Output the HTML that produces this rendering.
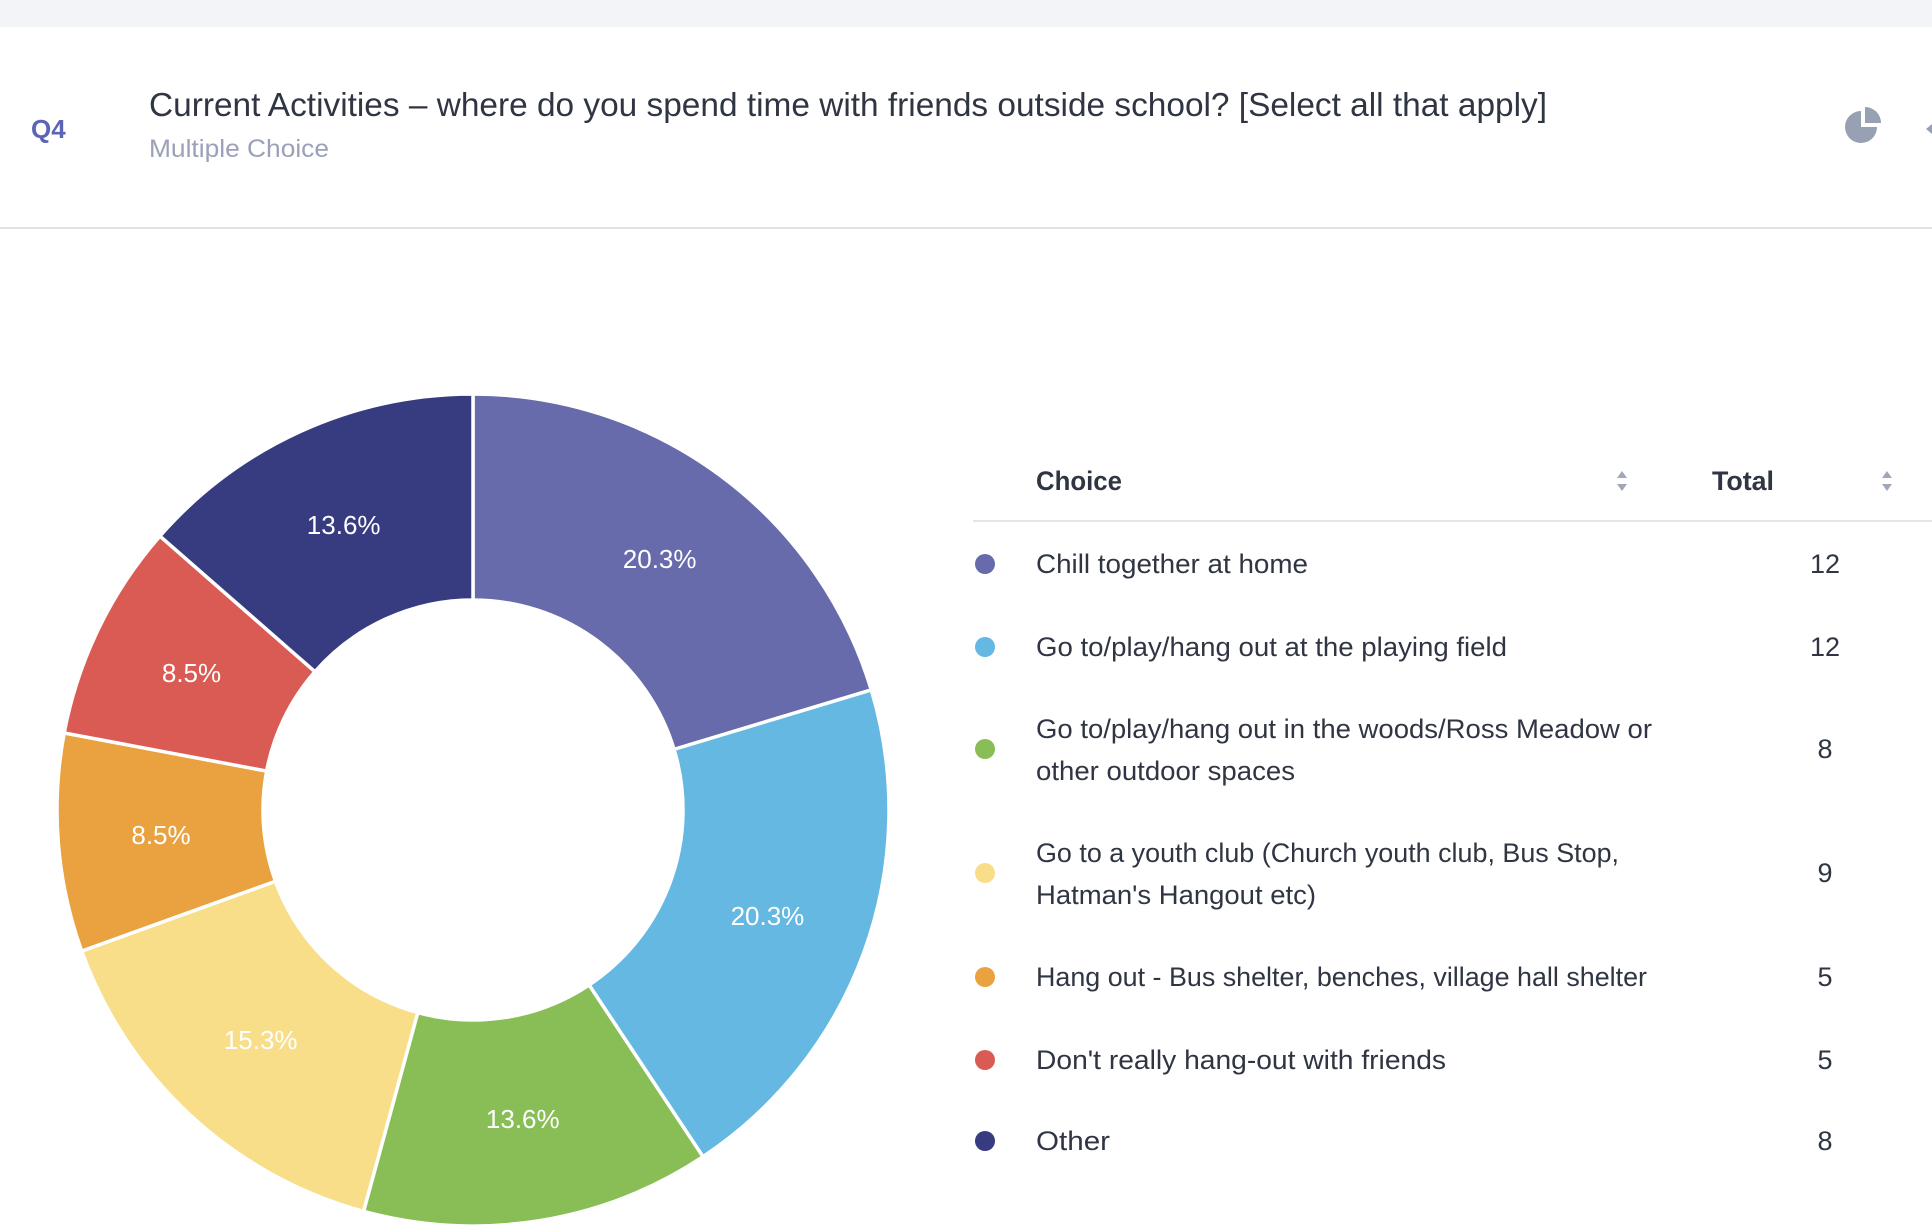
<!DOCTYPE html>
<html><head><meta charset="utf-8"><style>
html,body{margin:0;padding:0;background:#fff;}
svg{display:block;font-family:"Liberation Sans",sans-serif;}
</style></head><body>
<svg id="chart" width="1932" height="1232" viewBox="0 0 1932 1232" xmlns="http://www.w3.org/2000/svg">
<rect x="0" y="0" width="1932" height="27" fill="#f3f4f8"/>
<text x="31" y="138" font-size="26" font-weight="bold" fill="#5c64b8">Q4</text>
<text x="149" y="116" font-size="33" fill="#2f3542" textLength="1398" lengthAdjust="spacingAndGlyphs">Current Activities – where do you spend time with friends outside school? [Select all that apply]</text>
<text x="149" y="157" font-size="25" fill="#9aa1b8" textLength="180" lengthAdjust="spacingAndGlyphs">Multiple Choice</text>
<g fill="#98a0b4">
<path d="M1861 111 A16 16 0 1 0 1877 127 L1861 127 Z"/>
<path d="M1865 107 L1865 123 L1881 123 A16 16 0 0 0 1865 107 Z"/>
</g>
<path d="M1932 124 l-6 5 l6 5 z" fill="#98a0b4"/>
<rect x="0" y="227" width="1932" height="2" fill="#dfe1e7"/>
<g id="donut"></g>
<text x="1036" y="490" font-size="27" font-weight="bold" fill="#2f3542" textLength="86" lengthAdjust="spacingAndGlyphs">Choice</text>
<g fill="#a0a7b8"><path d="M1622 471 l-5 7 h10 z"/><path d="M1622 491 l-5 -7 h10 z"/></g>
<text x="1712" y="490" font-size="27" font-weight="bold" fill="#2f3542" textLength="62" lengthAdjust="spacingAndGlyphs">Total</text>
<g fill="#a0a7b8"><path d="M1887 471 l-5 7 h10 z"/><path d="M1887 491 l-5 -7 h10 z"/></g>
<rect x="973" y="520" width="959" height="2" fill="#e3e5ea"/>
<g id="rows"></g>
</svg>
<script>
const categories = ["Chill together at home","Go to/play/hang out at the playing field","Go to/play/hang out in the woods/Ross Meadow or|other outdoor spaces","Go to a youth club (Church youth club, Bus Stop,|Hatman's Hangout etc)","Hang out - Bus shelter, benches, village hall shelter","Don't really hang-out with friends","Other"];
const totals = [12,12,8,9,5,5,8];
const colors = ["#676bab","#64b8e2","#89be56","#f8de89","#e9a23f","#d95b53","#373c80"];
const NS="http://www.w3.org/2000/svg";
const cx=473, cy=810, R=416, r=210;
const sum=totals.reduce((a,b)=>a+b,0);
const donut=document.getElementById('donut');
function pt(rad,ang){return [cx+rad*Math.sin(ang), cy-rad*Math.cos(ang)];}
let a0=0;
totals.forEach((v,i)=>{
  const a1=a0+v/sum*2*Math.PI;
  const large=(a1-a0)>Math.PI?1:0;
  const p1=pt(R,a0),p2=pt(R,a1),p3=pt(r,a1),p4=pt(r,a0);
  const p=document.createElementNS(NS,'path');
  p.setAttribute('d',`M${p1} A${R} ${R} 0 ${large} 1 ${p2} L${p3} A${r} ${r} 0 ${large} 0 ${p4} Z`);
  p.setAttribute('fill',colors[i]);p.setAttribute('stroke','#fff');p.setAttribute('stroke-width','3.5');
  
  
  donut.appendChild(p);
  const m=pt((R+r)/2,(a0+a1)/2);
  const t=document.createElementNS(NS,'text');
  t.setAttribute('x',m[0]);t.setAttribute('y',m[1]+9);t.setAttribute('text-anchor','middle');
  t.setAttribute('font-size','26');t.setAttribute('fill','#fff');
  t.textContent=(v/sum*100).toFixed(1)+'%';
  
  
  donut.appendChild(t);
  a0=a1;
});
const rowY=[564,647,749,873,977,1060,1141];
const lineW=[[272],[471],[616,259],[583,280],[611],[410],[74]];
const rows=document.getElementById('rows');
categories.forEach((c,i)=>{
  const y=rowY[i];
  const d=document.createElementNS(NS,'circle');
  d.setAttribute('cx',985);d.setAttribute('cy',y);d.setAttribute('r',10);d.setAttribute('fill',colors[i]);
  
  
  rows.appendChild(d);
  const lines=c.split('|');
  lines.forEach((ln,j)=>{
    const t=document.createElementNS(NS,'text');
    const yy=lines.length===1?y+9:y-20+j*42+9;
    t.setAttribute('x',1036);t.setAttribute('y',yy);t.setAttribute('font-size','27');t.setAttribute('fill','#2f3542');
    t.setAttribute('textLength',lineW[i][j]);t.setAttribute('lengthAdjust','spacingAndGlyphs');
    t.textContent=ln;
    
    
    rows.appendChild(t);
  });
  const v=document.createElementNS(NS,'text');
  v.setAttribute('x',1825);v.setAttribute('y',y+9);v.setAttribute('text-anchor','middle');
  v.setAttribute('font-size','27');v.setAttribute('fill','#2f3542');
  v.textContent=totals[i];
  
  
  rows.appendChild(v);
});
</script>
</body></html>
